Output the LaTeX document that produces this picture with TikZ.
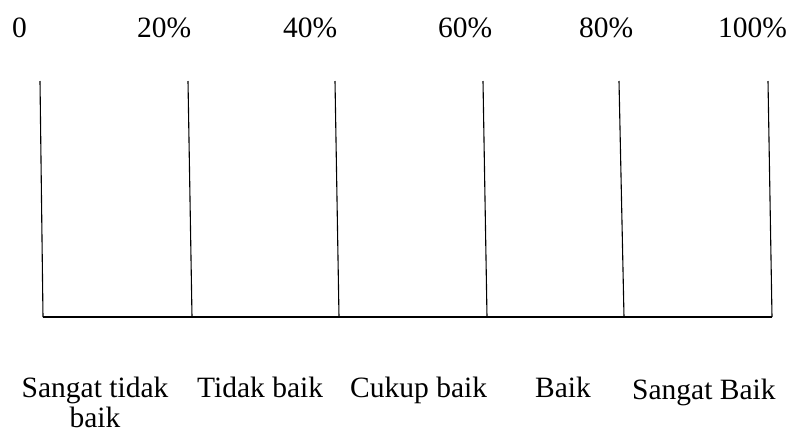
\documentclass[tikz,border=0pt]{standalone}
\usepackage{fontspec}
\setmainfont{Liberation Serif}
\begin{document}
\begin{tikzpicture}[x=1pt,y=-1pt,
  lbl/.style={inner sep=0pt,anchor=base west,font=\fontsize{29.5}{33}\selectfont},
  scaleline/.style={line width=1.1pt,black}]
\useasboundingbox (0,0) rectangle (790,432);
% percentage marks along the top
\node[lbl] (p0)   at (12,37)  {0};
\node[lbl] (p20)  at (137,37) {20\%};
\node[lbl] (p40)  at (283,37) {40\%};
\node[lbl] (p60)  at (438,37) {60\%};
\node[lbl] (p80)  at (579,37) {80\%};
\node[lbl] (p100) at (718,37) {100\%};
% tick lines and base line
\coordinate (t0) at (40,81);  \coordinate (b0) at (43,317);
\coordinate (t1) at (188,81); \coordinate (b1) at (192,317);
\coordinate (t2) at (335,81); \coordinate (b2) at (339,317);
\coordinate (t3) at (483,81); \coordinate (b3) at (487,317);
\coordinate (t4) at (619,81); \coordinate (b4) at (624,317);
\coordinate (t5) at (768,81); \coordinate (b5) at (772,317);
\foreach \i in {0,...,5} \draw[scaleline] (t\i) -- (b\i);
\draw[scaleline] (b0) -- (b5);
% category labels
\node[lbl,anchor=base] (c1)  at (95,397) {Sangat tidak};
\node[lbl,anchor=base] (c1b) at (95,427) {baik};
\node[lbl] (c2) at (197,397) {Tidak baik};
\node[lbl] (c3) at (350,397) {Cukup baik};
\node[lbl] (c4) at (535,397) {Baik};
\node[lbl] (c5) at (632,399) {Sangat Baik};
\end{tikzpicture}
\end{document}
